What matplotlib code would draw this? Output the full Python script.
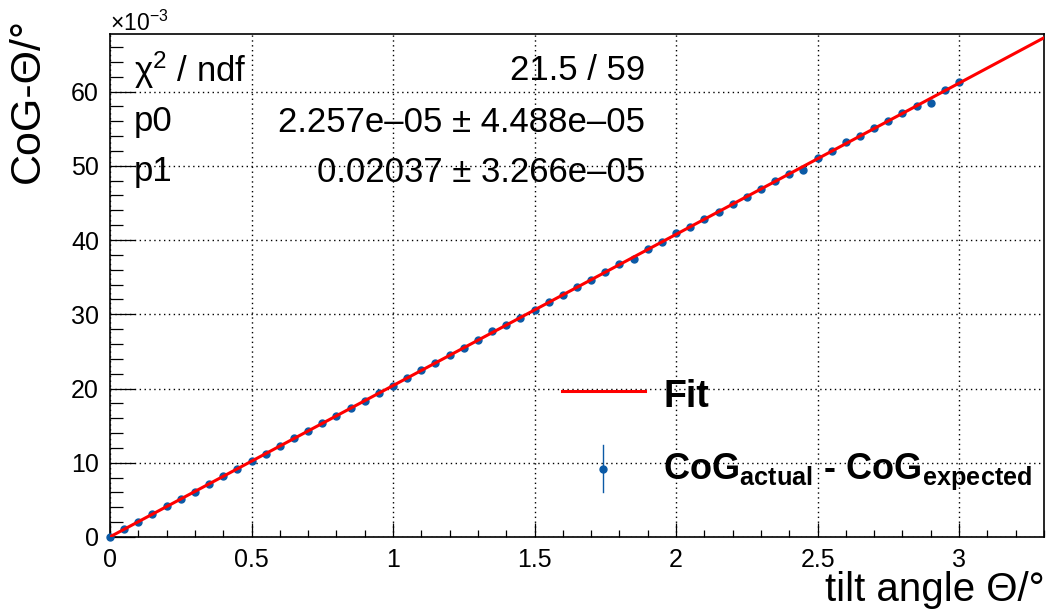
import matplotlib
matplotlib.use("Agg")
import matplotlib.pyplot as plt
from matplotlib.lines import Line2D
from matplotlib.ticker import MultipleLocator
import numpy as np

plt.rcParams['font.family'] = ['Liberation Sans', 'DejaVu Sans']
plt.rcParams['mathtext.fontset'] = 'custom'
plt.rcParams['mathtext.rm'] = 'Liberation Sans'
plt.rcParams['mathtext.bf'] = 'Liberation Sans:bold'
plt.rcParams['mathtext.it'] = 'Liberation Sans:italic'

# tilt angle (degrees)
tilt_angle = [0.00, 0.05, 0.10, 0.15, 0.20, 0.25, 0.30, 0.35, 0.40, 0.45,
              0.50, 0.55, 0.60, 0.65, 0.70, 0.75, 0.80, 0.85, 0.90, 0.95,
              1.00, 1.05, 1.10, 1.15, 1.20, 1.25, 1.30, 1.35, 1.40, 1.45,
              1.50, 1.55, 1.60, 1.65, 1.70, 1.75, 1.80, 1.85, 1.90, 1.95,
              2.00, 2.05, 2.10, 2.15, 2.20, 2.25, 2.30, 2.35, 2.40, 2.45,
              2.50, 2.55, 2.60, 2.65, 2.70, 2.75, 2.80, 2.85, 2.90, 2.95,
              3.00]
# CoG_actual - CoG_expected, in units of 1e-3 degrees
cog_shift_e3 = [0.00, 1.05, 2.07, 3.07, 4.11, 5.12, 6.12, 7.17, 8.16, 9.20,
                10.22, 11.22, 12.25, 13.28, 14.27, 15.31, 16.33, 17.34, 18.35, 19.38,
                20.40, 21.40, 22.45, 23.44, 24.47, 25.49, 26.52, 27.70, 28.55, 29.56,
                30.58, 31.62, 32.60, 33.64, 34.66, 35.66, 36.72, 37.40, 38.74, 39.75,
                40.98, 41.78, 42.80, 43.84, 44.84, 45.86, 46.88, 47.90, 48.92, 49.40,
                51.00, 51.98, 53.22, 54.02, 55.04, 56.05, 57.08, 58.10, 58.40, 60.15,
                61.25]
cog_err_e3 = 0.35

# linear fit results
chi2, ndf = 21.5, 59
p0, p0_err = 2.257e-05, 4.488e-05
p1, p1_err = 0.02037, 3.266e-05
fit_range = [0.0, 3.3]

blue = '#0b5aa6'
red = '#ff0000'

W, H = 1046, 612
fig = plt.figure(figsize=(W / 100, H / 100), dpi=100)
ax = fig.add_axes([110 / W, 1 - 537 / H, (1044 - 110) / W, (537 - 34) / H])

# data with error bars
eb = ax.errorbar(tilt_angle, cog_shift_e3, yerr=cog_err_e3, fmt='o', color=blue,
                 ms=5, elinewidth=1.0, capsize=0, zorder=3)
for artist in eb.get_children():
    artist.set_clip_on(False)

# fit line
xf = np.array(fit_range)
ax.plot(xf, (p0 + p1 * xf) * 1e3, color=red, lw=2.2, zorder=4)

ax.set_xlim(0, 3.3)
ax.set_ylim(0, 67.75)
ax.xaxis.set_major_locator(MultipleLocator(0.5))
ax.xaxis.set_minor_locator(MultipleLocator(0.1))
ax.yaxis.set_major_locator(MultipleLocator(10))
ax.yaxis.set_minor_locator(MultipleLocator(2))
ax.set_xticks([0, 0.5, 1, 1.5, 2, 2.5, 3])
ax.set_xticklabels(['0', '0.5', '1', '1.5', '2', '2.5', '3'])

ax.tick_params(axis='both', which='both', direction='in', top=False, right=False,
               labelsize=18, width=0.9, color='black')
ax.tick_params(axis='x', which='major', length=10, pad=8)
ax.tick_params(axis='x', which='minor', length=5)
ax.tick_params(axis='y', which='major', length=18, pad=8)
ax.tick_params(axis='y', which='minor', length=9.5)

ax.grid(True, which='major', color='black', linestyle=(0, (1, 2.5)), lw=1.0)
ax.set_axisbelow(True)
for s in ax.spines.values():
    s.set_linewidth(1.2)

# axis titles
fig.text(1045 / W, 1 - 601 / H, 'tilt angle Θ/°', ha='right', va='baseline', fontsize=29)
fig.text(28 / W, 1 - 18 / H, 'CoG-Θ/°', ha='center', va='top', rotation=90, fontsize=31)
fig.text(110 / W, 1 - 31 / H, '×10$^{-3}$', ha='left', va='baseline', fontsize=16.5)

# fit statistics
stat_rows = [('χ$^{2}$ / ndf', f'{chi2:g} / {ndf}'),
             ('p0', '2.257e\u201305 \u00b1 4.488e\u201305'),
             ('p1', f'{p1:.5f} \u00b1 3.266e\u201305')]
for (lab, val), yc in zip(stat_rows, [70, 122, 172]):
    fig.text(134 / W, 1 - yc / H, lab, ha='left', va='center', fontsize=25)
    fig.text(645 / W, 1 - yc / H, val, ha='right', va='center', fontsize=25)

# legend
fig.add_artist(Line2D([562 / W, 645 / W], [1 - 391 / H, 1 - 391 / H],
                      color=red, lw=2.2, transform=fig.transFigure))
fig.add_artist(Line2D([603 / W, 603 / W], [1 - 445 / H, 1 - 492 / H],
                      color=blue, lw=1.0, transform=fig.transFigure))
fig.add_artist(Line2D([603 / W], [1 - 469 / H], color=blue, marker='o', ms=5,
                      lw=0, transform=fig.transFigure))
fig.text(663 / W, 1 - 397 / H, 'Fit', ha='left', va='center', fontsize=27,
         fontweight='bold')
fig.text(663 / W, 1 - 472 / H,
         r'$\mathbf{CoG}_{\mathbf{actual}}$' + ' - ' + r'$\mathbf{CoG}_{\mathbf{expected}}$',
         ha='left', va='center', fontsize=26, fontweight='bold')

fig.savefig('out.png', dpi=100)
